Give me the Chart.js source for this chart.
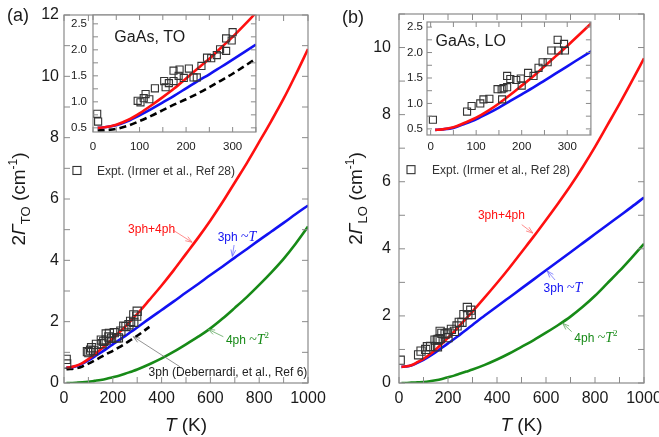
<!DOCTYPE html>
<html>
<head>
<meta charset="utf-8">
<script src="https://cdn.jsdelivr.net/npm/chart.js@4.4.1/dist/chart.umd.min.js"></script>
<style>
  body { margin: 0; background: #fff; }
  #wrap { position: relative; width: 659px; height: 437px; overflow: hidden; }
  canvas { position: absolute; }
</style>
</head>
<body>
<div id="wrap">
  <canvas id="mainA" width="330" height="437" style="left:0;top:0"></canvas>
  <canvas id="mainB" width="329" height="437" style="left:330px;top:0"></canvas>
  <canvas id="insetA" width="202" height="155" style="left:60px;top:5px"></canvas>
  <canvas id="insetB" width="202" height="150" style="left:395px;top:12px"></canvas>
</div>
<script>
const FONT = '"Liberation Sans", Arial, sans-serif';
const SERIF = '"Liberation Serif", "Times New Roman", serif';
const FRAME = '#8a8a8a';
const TXT = '#1a1a1a';
const RED = '#ff1010', BLUE = '#1212f2', GREEN = '#178a17';

// temperature grid of the calculated curves (K)
const tempK = [10, 25, 50, 75, 100, 125, 150, 175, 200, 225, 250, 275, 300, 350, 400,
  450, 500, 550, 600, 650, 700, 750, 800, 850, 900, 950, 1000];
const deberTempK = [10, 25, 50, 75, 100, 125, 150, 175, 200, 225, 250, 275, 300, 350];

// TO phonon linewidth 2Gamma (cm-1)
const to3ph4ph = [0.5, 0.51, 0.56, 0.65, 0.78, 0.93, 1.09, 1.26, 1.45, 1.64, 1.83, 2.04, 2.25, 2.71, 3.18,
  3.68, 4.21, 4.74, 5.3, 5.9, 6.54, 7.18, 7.86, 8.55, 9.27, 10.06, 10.89];
const to3ph = [0.5, 0.51, 0.55, 0.63, 0.74, 0.86, 0.99, 1.12, 1.26, 1.4, 1.53, 1.67, 1.81, 2.1, 2.38,
  2.66, 2.95, 3.23, 3.52, 3.8, 4.09, 4.37, 4.66, 4.94, 5.22, 5.51, 5.79];
const to4ph = [0, 0.002, 0.01, 0.02, 0.04, 0.07, 0.1, 0.14, 0.19, 0.24, 0.3, 0.37, 0.44, 0.61, 0.8,
  1.02, 1.26, 1.51, 1.78, 2.1, 2.45, 2.81, 3.2, 3.61, 4.05, 4.55, 5.1];
const toDeber = [0.45, 0.455, 0.48, 0.54, 0.63, 0.73, 0.84, 0.95, 1.05, 1.16, 1.28, 1.41, 1.54, 1.83];

// LO phonon linewidth 2Gamma (cm-1)
const lo3ph4ph = [0.48, 0.49, 0.53, 0.62, 0.72, 0.85, 1.0, 1.17, 1.35, 1.53, 1.73, 1.93, 2.13, 2.55, 2.98,
  3.43, 3.9, 4.37, 4.86, 5.36, 5.88, 6.44, 7.04, 7.68, 8.32, 8.99, 9.68];
const lo3ph = [0.48, 0.49, 0.52, 0.6, 0.69, 0.8, 0.92, 1.05, 1.18, 1.31, 1.45, 1.59, 1.73, 2.01, 2.28,
  2.55, 2.82, 3.09, 3.36, 3.63, 3.9, 4.17, 4.44, 4.71, 4.98, 5.25, 5.53];
const lo4ph = [0, 0.001, 0.01, 0.02, 0.03, 0.05, 0.08, 0.12, 0.17, 0.22, 0.28, 0.34, 0.4, 0.54, 0.7,
  0.88, 1.08, 1.28, 1.5, 1.73, 1.98, 2.27, 2.6, 2.97, 3.34, 3.74, 4.15];

// experiment (Irmer et al.)
const exptToT = [9, 11, 96, 102, 109, 113, 121, 133, 153, 156, 163, 173, 173, 184, 186, 195, 206, 216,
  223, 233, 245, 254, 266, 273, 286, 286, 298, 300];
const exptToW = [0.77, 0.62, 1.02, 0.99, 1.07, 1.15, 1.05, 1.26, 1.40, 1.28, 1.36, 1.40, 1.60, 1.50, 1.62,
  1.46, 1.64, 1.47, 1.47, 1.69, 1.85, 1.84, 1.90, 2.01, 1.98, 2.22, 2.18, 2.34];
const exptLoT = [5, 80, 90, 109, 116, 129, 147, 156, 157, 160, 168, 168, 175, 188, 198, 200, 214, 226,
  237, 246, 257, 265, 279, 281, 293, 295];
const exptLoW = [0.68, 0.84, 0.95, 1.00, 1.08, 1.09, 1.28, 1.28, 1.08, 1.30, 1.32, 1.54, 1.48, 1.46, 1.49,
  1.35, 1.60, 1.54, 1.70, 1.81, 1.81, 2.04, 2.25, 2.04, 2.17, 2.04];

// ticks
const mainXTicks = [0, 100, 200, 300, 400, 500, 600, 700, 800, 900, 1000];
const mainXLabels = [0, 200, 400, 600, 800, 1000];
const toYTicks = [0, 1, 2, 3, 4, 5, 6, 7, 8, 9, 10, 11, 12];
const toYLabels = [0, 2, 4, 6, 8, 10, 12];
const loYTicks = [0, 1, 2, 3, 4, 5, 6, 7, 8, 9, 10, 11];
const loYLabels = [0, 2, 4, 6, 8, 10];
const insetXTicks = [0, 50, 100, 150, 200, 250, 300, 350];
const insetXLabels = [0, 100, 200, 300];
const insetYTicks = [0.5, 0.75, 1, 1.25, 1.5, 1.75, 2, 2.25, 2.5];
const insetYLabels = [0.5, 1, 1.5, 2, 2.5];

const xy = (xs, ys) => xs.map((x, i) => ({ x: x, y: ys[i] }));

function curve(xs, ys, color, dash) {
  return { data: xy(xs, ys), showLine: true, borderColor: color, borderWidth: 2.6,
    borderDash: dash || [], pointRadius: 0, cubicInterpolationMode: 'monotone', fill: false };
}
function squares(xs, ys, r) {
  return { data: xy(xs, ys), showLine: false, pointStyle: 'rect', pointRadius: r,
    borderColor: '#333', borderWidth: 1.1, backgroundColor: 'rgba(0,0,0,0)' };
}

function axis(min, max, ticks, labels, o) {
  return {
    type: 'linear', min: min, max: max,
    afterBuildTicks: s => { s.ticks = ticks.map(v => ({ value: v })); },
    afterFit: s => {
      if (s.isHorizontal()) s.height = o.size; else s.width = o.size;
      s.paddingLeft = s.paddingRight = s.paddingTop = s.paddingBottom = 0;
    },
    ticks: { autoSkip: false, maxRotation: 0, padding: o.pad, color: TXT,
      font: { family: FONT, size: o.font },
      callback: v => labels.includes(v) ? (o.fixed ? v.toFixed(1) : String(v)) : '' },
    grid: { display: false, drawTicks: false },
    border: { display: false }
  };
}

// text made of pieces: [text, font, dy]
function rich(ctx, parts, x, y, align) {
  let w = 0;
  parts.forEach(p => { ctx.font = p[1]; w += ctx.measureText(p[0]).width; });
  let cx = align === 'center' ? x - w / 2 : (align === 'right' ? x - w : x);
  ctx.textAlign = 'left';
  ctx.textBaseline = 'alphabetic';
  parts.forEach(p => {
    ctx.font = p[1];
    ctx.fillText(p[0], cx, y + (p[2] || 0));
    cx += ctx.measureText(p[0]).width;
  });
}

function arrow(ctx, x1, y1, x2, y2, color) {
  const a = Math.atan2(y2 - y1, x2 - x1), h = 7;
  ctx.strokeStyle = color;
  ctx.lineWidth = 0.8;
  ctx.beginPath();
  ctx.moveTo(x1, y1); ctx.lineTo(x2, y2);
  ctx.moveTo(x2 - h * Math.cos(a - 0.35), y2 - h * Math.sin(a - 0.35));
  ctx.lineTo(x2, y2);
  ctx.lineTo(x2 - h * Math.cos(a + 0.35), y2 - h * Math.sin(a + 0.35));
  ctx.stroke();
}

const s12 = '12px ' + FONT;
const tildeT = [['~', '14px ' + SERIF], ['T', 'italic 14px ' + SERIF]];

const notesTO = [
  { parts: [['3ph+4ph', s12]], color: RED, line: '#ff7070', at: [359, 5.03], from: [448, 4.98], to: [525, 4.59] },
  { parts: [['3ph ', s12]].concat(tildeT), color: BLUE, line: '#7070ff', at: [709, 4.78], from: [697, 4.5], to: [690, 4.13] },
  { parts: [['4ph ', s12]].concat(tildeT, [['2', '9px ' + SERIF, -6]]), color: GREEN, line: '#60a860', at: [752, 1.43], from: [653, 1.51], to: [591, 1.75] },
  { parts: [['3ph (Debernardi, et al., Ref 6)', s12]], color: '#222', line: '#777', at: [672, 0.39], from: [475, 0.53], to: [284, 1.51] }
];
const notesLO = [
  { parts: [['3ph+4ph', s12]], color: RED, line: '#ff7070', at: [418, 5.01], from: [501, 4.72], to: [546, 4.47] },
  { parts: [['3ph ', s12]].concat(tildeT), color: BLUE, line: '#7070ff', at: [669, 2.86], from: [637, 3.07], to: [605, 3.34] },
  { parts: [['4ph ', s12]].concat(tildeT, [['2', '9px ' + SERIF, -6]]), color: GREEN, line: '#60a860', at: [804, 1.36], from: [705, 1.53], to: [668, 1.78] }
];

function deco(o) {
  return {
    id: 'deco',
    beforeDraw(chart) {
      if (!o.white) return;
      const a = chart.chartArea, ctx = chart.ctx;
      ctx.save();
      ctx.fillStyle = '#fff';
      ctx.fillRect(a.left, a.top, a.right - a.left, a.bottom - a.top);
      ctx.restore();
    },
    afterDraw(chart) {
      const ctx = chart.ctx, a = chart.chartArea, sx = chart.scales.x, sy = chart.scales.y;
      ctx.save();
      // frame and inward ticks
      ctx.strokeStyle = FRAME;
      ctx.lineWidth = 1.2;
      ctx.strokeRect(a.left, a.top, a.right - a.left, a.bottom - a.top);
      ctx.lineWidth = 1;
      ctx.beginPath();
      o.xTicks.forEach(v => {
        const p = sx.getPixelForValue(v);
        ctx.moveTo(p, a.bottom); ctx.lineTo(p, a.bottom - o.len);
        ctx.moveTo(p, a.top); ctx.lineTo(p, a.top + o.len);
      });
      o.yTicks.forEach(v => {
        const p = sy.getPixelForValue(v);
        ctx.moveTo(a.left, p); ctx.lineTo(a.left + o.len, p);
        ctx.moveTo(a.right, p); ctx.lineTo(a.right - o.len, p);
      });
      ctx.stroke();

      if (o.title) {
        ctx.fillStyle = TXT;
        rich(ctx, [[o.title, '16px ' + FONT]], sx.getPixelForValue(o.titleAt[0]), sy.getPixelForValue(o.titleAt[1]) + 6, 'center');
      }
      if (o.panel) {
        ctx.fillStyle = TXT;
        rich(ctx, [[o.panel, '18px ' + FONT]], o.panelAt[0], o.panelAt[1], 'left');
        // x axis title
        rich(ctx, [['T', 'italic 19px ' + FONT], [' (K)', '19px ' + FONT]], (a.left + a.right) / 2, a.bottom + 48, 'center');
        // y axis title
        ctx.save();
        ctx.translate(o.yTitleX, (a.top + a.bottom) / 2);
        ctx.rotate(-Math.PI / 2);
        rich(ctx, [['2', '19px ' + FONT], ['\u0393', 'italic 19px ' + FONT], [o.sub, '13px ' + FONT, 5],
          [' (cm', '19px ' + FONT], ['-1', '12px ' + FONT, -8], [')', '19px ' + FONT]], 0, 0, 'center');
        ctx.restore();
      }
      if (o.legend) {
        const mx = sx.getPixelForValue(o.legend.at[0]), my = sy.getPixelForValue(o.legend.at[1]);
        ctx.strokeStyle = '#333';
        ctx.lineWidth = 1.1;
        ctx.strokeRect(mx - 4, my - 4, 8, 8);
        ctx.fillStyle = '#333';
        rich(ctx, [['Expt. (Irmer et al., Ref 28)', s12]], sx.getPixelForValue(o.legend.textT), my + 4.5, 'left');
      }
      (o.notes || []).forEach(n => {
        arrow(ctx, sx.getPixelForValue(n.from[0]), sy.getPixelForValue(n.from[1]),
          sx.getPixelForValue(n.to[0]), sy.getPixelForValue(n.to[1]), n.line);
        ctx.fillStyle = n.color;
        rich(ctx, n.parts, sx.getPixelForValue(n.at[0]), sy.getPixelForValue(n.at[1]) + 4.5, 'center');
      });
      ctx.restore();
    }
  };
}

function makeChart(id, datasets, xs, ys, pad, plugin) {
  return new Chart(document.getElementById(id), {
    type: 'scatter',
    data: { datasets: datasets },
    options: {
      responsive: false, animation: false, events: [],
      layout: { padding: pad },
      plugins: { legend: { display: false }, tooltip: { enabled: false } },
      scales: { x: xs, y: ys }
    },
    plugins: [plugin]
  });
}

// panel (a) TO
makeChart('mainA', [
  squares(exptToT, exptToW, 5.8),
  curve(tempK, to3ph4ph, RED),
  curve(tempK, to3ph, BLUE),
  curve(deberTempK, toDeber, '#000', [7, 4]),
  curve(tempK, to4ph, GREEN)
],
  axis(0, 1000, mainXTicks, mainXLabels, { size: 54, pad: 6, font: 16 }),
  axis(0, 12, toYTicks, toYLabels, { size: 64, pad: 5, font: 16 }),
  { left: 0, top: 15, right: 22, bottom: 0 },
  deco({ xTicks: mainXTicks, yTicks: toYTicks, len: 6, panel: '(a)', panelAt: [7, 21], sub: 'TO', yTitleX: 25,
    notes: notesTO, legend: { at: [53, 6.93], textT: 135 } }));

// panel (b) LO
makeChart('mainB', [
  squares(exptLoT, exptLoW, 5.8),
  curve(tempK, lo3ph4ph, RED),
  curve(tempK, lo3ph, BLUE),
  curve(tempK, lo4ph, GREEN)
],
  axis(0, 1000, mainXTicks, mainXLabels, { size: 54, pad: 6, font: 16 }),
  axis(0, 11, loYTicks, loYLabels, { size: 69, pad: 8, font: 16 }),
  { left: 0, top: 14, right: 15, bottom: 0 },
  deco({ xTicks: mainXTicks, yTicks: loYTicks, len: 6, panel: '(b)', panelAt: [12, 23], sub: 'LO', yTitleX: 32,
    notes: notesLO, legend: { at: [49, 6.36], textT: 135 } }));

// insets
makeChart('insetA', [
  squares(exptToT, exptToW, 5),
  curve(tempK, to3ph4ph, RED),
  curve(tempK, to3ph, BLUE),
  curve(deberTempK, toDeber, '#000', [7, 4])
],
  axis(0, 350, insetXTicks, insetXLabels, { size: 28, pad: 8, font: 11.5 }),
  axis(0.42, 2.67, insetYTicks, insetYLabels, { size: 33, pad: 6, font: 11.5, fixed: true }),
  { left: 0, top: 10, right: 5, bottom: 0 },
  deco({ xTicks: insetXTicks, yTicks: insetYTicks, len: 5, white: true, title: 'GaAs, TO', titleAt: [122, 2.26] }));

makeChart('insetB', [
  squares(exptLoT, exptLoW, 5),
  curve(tempK, lo3ph4ph, RED),
  curve(tempK, lo3ph, BLUE)
],
  axis(-8, 352, insetXTicks, insetXLabels, { size: 27, pad: 5, font: 11.5 }),
  axis(0.38, 2.6, insetYTicks, insetYLabels, { size: 32, pad: 4, font: 11.5, fixed: true }),
  { left: 0, top: 10, right: 5, bottom: 0 },
  deco({ xTicks: insetXTicks, yTicks: insetYTicks, len: 5, white: true, title: 'GaAs, LO', titleAt: [88, 2.25] }));
</script>
</body>
</html>
